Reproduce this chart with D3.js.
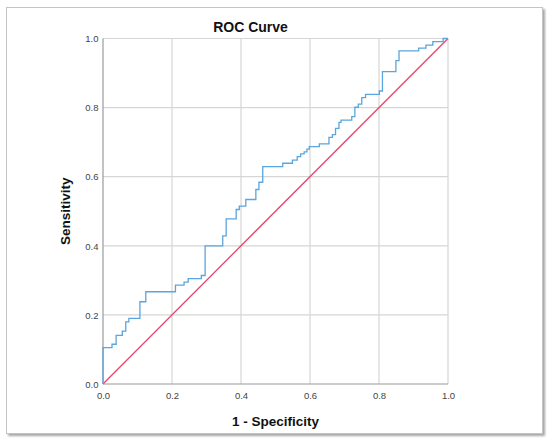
<!DOCTYPE html>
<html>
<head>
<meta charset="utf-8">
<script src="https://cdn.jsdelivr.net/npm/d3@7"></script>
<style>
  html, body { margin: 0; padding: 0; background: #ffffff; }
  svg { display: block; }
  text { font-family: "Liberation Sans", Arial, sans-serif; }
</style>
</head>
<body>
<svg id="chart" width="550" height="442"></svg>
<script>
// ---- data ----
const title = "ROC Curve";
const xLabel = "1 - Specificity";
const yLabel = "Sensitivity";
const tickValues = [0, 0.2, 0.4, 0.6, 0.8, 1.0];
const tickLabels = ["0.0", "0.2", "0.4", "0.6", "0.8", "1.0"];
// ROC curve vertices (1 - specificity, sensitivity)
const fpr = [0, 0, 0.026, 0.038, 0.056, 0.066, 0.075, 0.107, 0.124, 0.210, 0.235, 0.247, 0.285, 0.296,
  0.347, 0.357, 0.386, 0.395, 0.414, 0.443, 0.452, 0.463, 0.521, 0.549, 0.563, 0.573, 0.583, 0.591,
  0.598, 0.627, 0.655, 0.665, 0.674, 0.684, 0.690, 0.721, 0.730, 0.740, 0.750, 0.761, 0.801, 0.810,
  0.849, 0.858, 0.915, 0.936, 0.956, 0.986, 1.0];
const tpr = [0, 0.105, 0.115, 0.141, 0.153, 0.180, 0.190, 0.238, 0.267, 0.286, 0.295, 0.305, 0.314, 0.400,
  0.429, 0.478, 0.505, 0.515, 0.534, 0.563, 0.584, 0.629, 0.639, 0.648, 0.658, 0.666, 0.672, 0.680,
  0.687, 0.695, 0.714, 0.722, 0.740, 0.757, 0.764, 0.774, 0.801, 0.810, 0.829, 0.838, 0.848, 0.904,
  0.936, 0.964, 0.972, 0.981, 0.991, 1.0, 1.0];
// reference diagonal
const refX = [0, 1];
const refY = [0, 1];

// ---- drawing ----
const svg = d3.select("#chart");

// card with shadow
const defs = svg.append("defs");
const f = defs.append("filter").attr("id", "shadow").attr("x", "-5%").attr("y", "-5%").attr("width", "110%").attr("height", "110%");
f.append("feDropShadow").attr("dx", 2).attr("dy", 2).attr("stdDeviation", 1.2).attr("flood-color", "#000").attr("flood-opacity", 0.35);

svg.append("rect")
  .attr("x", 6.5).attr("y", 7.5).attr("width", 536).attr("height", 426)
  .attr("fill", "#ffffff").attr("stroke", "#c4c4c4").attr("stroke-width", 1)
  .attr("filter", "url(#shadow)");

const x = d3.scaleLinear().domain([0, 1]).range([103, 448]);
const y = d3.scaleLinear().domain([0, 1]).range([384, 38.5]);

// gridlines
const grid = svg.append("g");
tickValues.filter(v => v > 0).forEach(v => {
  grid.append("line").attr("x1", x(v)).attr("x2", x(v)).attr("y1", y(0)).attr("y2", y(1))
    .attr("stroke", "#d6d6d6").attr("stroke-width", 1.2);
  grid.append("line").attr("x1", x(0)).attr("x2", x(1)).attr("y1", y(v)).attr("y2", y(v))
    .attr("stroke", "#d6d6d6").attr("stroke-width", 1.2);
});

// axes (labels only, via d3 axes)
const xAxis = d3.axisBottom(x).tickValues(tickValues).tickFormat((d, i) => tickLabels[i]).tickSize(0).tickPadding(0);
const yAxis = d3.axisLeft(y).tickValues(tickValues).tickFormat((d, i) => tickLabels[i]).tickSize(0).tickPadding(0);

const gx = svg.append("g").attr("transform", `translate(0,${y(0)})`).call(xAxis);
gx.select(".domain").remove();
gx.selectAll("text").attr("dy", null).attr("y", 14.5).attr("font-size", 9.5).attr("fill", "#444")
  .attr("font-family", "'Liberation Sans', Arial, sans-serif");

const gy = svg.append("g").attr("transform", `translate(${x(0)},0)`).call(yAxis);
gy.select(".domain").remove();
gy.selectAll("text").attr("dy", "0.34em").attr("x", -4.5).attr("font-size", 9.5).attr("fill", "#444")
  .attr("font-family", "'Liberation Sans', Arial, sans-serif");

// axis lines
svg.append("line").attr("x1", x(0)).attr("x2", x(1)).attr("y1", y(0)).attr("y2", y(0))
  .attr("stroke", "#9a9a9a").attr("stroke-width", 1.2);
svg.append("line").attr("x1", x(0)).attr("x2", x(0)).attr("y1", y(0)).attr("y2", y(1))
  .attr("stroke", "#9a9a9a").attr("stroke-width", 1.2);

// diagonal reference line
const refLine = d3.line().x(d => x(d[0])).y(d => y(d[1]));
svg.append("path").datum(d3.zip(refX, refY)).attr("d", refLine)
  .attr("fill", "none").attr("stroke", "#e8456f").attr("stroke-width", 1.3);

// ROC step curve
const rocLine = d3.line().x(d => x(d[0])).y(d => y(d[1])).curve(d3.curveStepAfter);
svg.append("path").datum(d3.zip(fpr, tpr)).attr("d", rocLine)
  .attr("fill", "none").attr("stroke", "#5aa5de").attr("stroke-width", 1.3);

// titles
svg.append("text").attr("x", 250.5).attr("y", 32).attr("text-anchor", "middle")
  .attr("font-size", 14).attr("font-weight", "bold").attr("fill", "#111").text(title);
svg.append("text").attr("x", x(0.5)).attr("y", 425.5).attr("text-anchor", "middle")
  .attr("font-size", 13.5).attr("font-weight", "bold").attr("fill", "#111").text(xLabel);
svg.append("text").attr("transform", `translate(70,${y(0.5)}) rotate(-90)`).attr("text-anchor", "middle")
  .attr("font-size", 13.5).attr("font-weight", "bold").attr("fill", "#111").text(yLabel);
</script>
</body>
</html>
